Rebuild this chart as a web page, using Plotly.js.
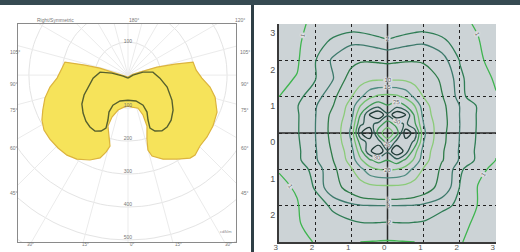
<!DOCTYPE html>
<html><head><meta charset="utf-8">
<script src="https://cdn.plot.ly/plotly-3.0.1.min.js"></script>
<style>html,body{margin:0;padding:0;background:#fff}#chart{width:520px;height:252px}</style>
</head><body><div id="chart"></div>
<script>
// ===== Left panel: photometric (polar) curve, angle from nadir (deg), intensity (cd/klm) =====
const yellowAngles = [0,-90,-102.5,-104,-103.1,-101.7,-96,-87.6,-81.3,-74.5,-67.6,-62.4,-56.8,-50.6,-43.8,-37.3,-31.3,-24.1,-18.6,-15.9,-14.2,-17.3,-21.4,-20.9,-15.9,-7.1,0,7.1,16.9,20.6,20.4,16.5,14.9,16.5,22.6,30.3,36.8,40.0,45.4,51.9,59.0,67.4,75.8,81.7,87.7,94.2,101.3,103.2,105.4,104,101,0];
const yellowValues = [6,18,56,88,134,195,201,215,239,261,279,294,304,306,306,305,298,282,265,243,222,194,166,136,110,98,94,98,105,129,165,202,235,256,276,295,314,316,306,304,300,292,272,251,224,207,201,146,91,37,15,6];
const darkAngles = [0,-78.7,-97.1,-96.1,-85.1,-73.3,-65.6,-57.8,-49.8,-42.4,-36.2,-30.5,-25.7,-22.5,-24,-27.2,-26.6,-17.1,0,17.1,26.6,27.2,24,22.5,25.7,31.3,36.9,43.7,52.1,60.4,73,84.6,96.8,101.3,90,0];
const darkValues = [9,15,49,85,106,127,146,165,178,189,195,197,188,174,149,126,102,82,76,82,102,126,149,174,188,198,197,189,173,153,124,97,76,46,15,9];
const ringValues = [100,200,300,400,500,600];
const ringLabels = ['100','200','300','400','500'];
const rayAngles = [0,15,30,45,60,75,90,105,120,135,150,165,180,195,210,225,240,255,270,285,300,315,330,345];
const sideAngleLabels = ['105°','90°','75°','60°','45°'];
const bottomAngleLabels = ['30°','15°','0°','15°','30°'];
const headerLabels = ['Right/Symmetric','180°','120°'];

// ===== Right panel: isolux contour diagram =====
const gridX = [-3,-2.5,-2,-1.5,-1,-0.75,-0.5,-0.25,0,0.25,0.5,0.75,1,1.5,2,2.5,3];
const gridY = [-3,-2.5,-2,-1.5,-1,-0.75,-0.5,-0.25,0,0.25,0.5,0.75,1,1.5,2,2.5,3];
const luxZ = [
 [0.5,0.82,1.03,1.07,1.03,1.0,0.97,0.94,0.92,0.94,0.97,1.0,1.03,1.07,1.03,0.85,0.5],
 [0.55,0.92,1.3,1.6,1.85,1.92,1.95,1.93,1.9,1.93,1.95,1.92,1.9,1.6,1.2,0.85,0.55],
 [0.65,0.95,1.5,2.2,2.6,2.85,2.95,3.0,3.0,3.0,2.95,2.85,2.6,2.2,1.85,0.96,0.65],
 [0.85,1.07,2.1,3.9,6.2,7.5,8.3,8.7,8.7,8.7,8.3,7.5,6.5,4.0,1.95,0.97,0.75],
 [1.04,1.5,2.3,4.0,9.5,13.5,18,20,20.5,20,18,13.5,9.5,4.3,2.2,1.15,0.85],
 [1.05,1.8,2.7,5.0,12,19,24,27,25,28,24,19,12,5.2,2.8,1.8,0.98],
 [1.1,1.8,2.8,5.3,13,23,34,39,31,40,33,22,13,5.3,2.8,1.8,1.06],
 [1.15,1.85,2.9,5.6,15,27,32,33,22,32,33,29,15,5.6,2.9,1.85,1.18],
 [1.2,1.9,2.95,5.8,16,34,40,22,17,22,38,33,16,5.7,2.95,1.88,1.22],
 [1.22,1.9,2.95,5.8,15,29,32,28,22,27,31,26,15,5.9,3.0,1.9,1.25],
 [1.2,1.9,2.9,5.6,13,25,35,40,31,39,35,24,13,5.8,2.95,1.9,1.25],
 [1.15,1.95,2.8,5.0,12,20,25,28,25.3,28,25,20,12,5.6,2.95,1.9,1.2],
 [1.0,1.8,2.4,4.0,9.8,14,18.8,21,21.5,21,18.8,14,9.8,5.2,2.3,1.4,1.05],
 [0.8,1.05,1.95,2.95,6,7.5,8.5,8.9,8.9,8.9,8.6,7.8,7,4.5,2.2,1.35,0.9],
 [0.75,0.88,1.95,3.2,4.3,4.7,4.65,4.4,4.1,4.4,4.65,4.75,4.55,3.5,1.95,1.1,0.8],
 [0.7,0.85,1.5,2.25,2.75,2.7,2.5,2.3,2.15,2.3,2.5,2.7,2.8,2.3,1.5,1.03,0.75],
 [0.7,0.9,1.1,1.3,1.4,1.38,1.35,1.3,1.25,1.3,1.35,1.38,1.4,1.3,1.1,0.95,0.7]
];
const luxLevels = [1,2,3,5,10,15,20,25,30,35];
const levelColors = ['#3fb54f','#2f7d55','#3e7a6c','#2e7b48','#8bcb79','#4e8c80','#74c26f','#3f9a55','#2f5a52','#1f3a36'];
const axisTickVals = [-3,-2,-1,0,1,2,3];
const axisTickText = ['3','2','1','0','1','2','3'];

// ---- helpers ----
const rad = d => d * Math.PI / 180;
function polarToXY(angles, values) {
  return { x: values.map((v, i) => v * Math.sin(rad(angles[i]))),
           y: values.map((v, i) => -v * Math.cos(rad(angles[i]))) };
}
const FONT = 'Liberation Sans, Arial, sans-serif';
const traces = [];

ringValues.forEach(r => {
  const a = [], v = [];
  for (let d = 0; d <= 360; d += 3) { a.push(d); v.push(r); }
  const p = polarToXY(a, v);
  traces.push({type:'scatter', mode:'lines', x:p.x, y:p.y, xaxis:'x2', yaxis:'y2',
    line:{color:'#e4e4e4', width:1}, hoverinfo:'skip', showlegend:false});
});
rayAngles.forEach(a => {
  const p = polarToXY([a, a], [0, 700]);
  traces.push({type:'scatter', mode:'lines', x:p.x, y:p.y, xaxis:'x2', yaxis:'y2',
    line:{color:'#ebebeb', width:1}, hoverinfo:'skip', showlegend:false});
});
const py = polarToXY(yellowAngles, yellowValues);
traces.push({type:'scatter', mode:'lines', x:py.x, y:py.y, xaxis:'x2', yaxis:'y2',
  fill:'toself', fillcolor:'#f6e35a', line:{color:'#dcb43e', width:1.2},
  hoverinfo:'skip', showlegend:false});
const pd = polarToXY(darkAngles, darkValues);
traces.push({type:'scatter', mode:'lines', x:pd.x, y:pd.y, xaxis:'x2', yaxis:'y2',
  line:{color:'#56602e', width:1.4}, hoverinfo:'skip', showlegend:false});
traces.push({type:'scatter', mode:'text', xaxis:'x2', yaxis:'y2',
  x: ringLabels.map(() => 0).concat([0]),
  y: ringLabels.map((t, i) => -ringValues[i] + 8).concat([ringValues[0]]),
  text: ringLabels.concat([ringLabels[0]]),
  textfont:{size:5, color:'#777', family:FONT}, hoverinfo:'skip', showlegend:false});

luxLevels.forEach((L, i) => {
  traces.push({type:'contour', x:gridX, y:gridY, z:luxZ, xaxis:'x', yaxis:'y',
    autocontour:false,
    contours:{start:L, end:L, size:1, coloring:'none', showlabels:true,
      labelfont:{size:6, color:'#555', family:FONT,
        shadow:'0 0 1px #fff, 0 0 2px #fff, 0 0 2px #fff, 0 0 3px #fff'}},
    line:{color:levelColors[i], width:1.3, smoothing:1},
    showscale:false, hoverinfo:'skip'});
});

const yDom = [10/252, 228/252];
const annotations = [];
const px = (x) => x / 520, py_ = (y) => 1 - y / 252;
const small = {size:5, color:'#777', family:FONT};
annotations.push({xref:'paper', yref:'paper', x:px(35), y:py_(15), text:headerLabels[0], showarrow:false, font:small});
annotations.push({xref:'paper', yref:'paper', x:px(127), y:py_(15), text:headerLabels[1], showarrow:false, font:small});
annotations.push({xref:'paper', yref:'paper', x:px(240), y:py_(15), text:headerLabels[2], showarrow:false, font:small});
const sideY = [47,79,110,148,198];
sideAngleLabels.forEach((t, i) => {
  annotations.push({xref:'paper', yref:'paper', x:px(8), y:py_(sideY[i]), text:t, showarrow:false, font:small});
  annotations.push({xref:'paper', yref:'paper', x:px(245), y:py_(sideY[i]), text:t, showarrow:false, font:small});
});
const botX = [25,80,128,173,228];
bottomAngleLabels.forEach((t, i) => {
  annotations.push({xref:'paper', yref:'paper', x:px(botX[i]), y:py_(248.5), text:t, showarrow:false, font:{size:4.5, color:'#777', family:FONT}});
});
annotations.push({xref:'paper', yref:'paper', x:px(226), y:py_(236), text:'cd/klm', showarrow:false, font:{size:4, color:'#888', family:FONT}});

const axisCommon = {range:[-3,3], tickvals:axisTickVals, ticktext:axisTickText, ticks:'',
  showgrid:true, gridcolor:'#222', griddash:'dot', gridwidth:1,
  zeroline:false, showline:true, linecolor:'#3a3a3a', linewidth:2, fixedrange:true};
const layout = {
  width:520, height:252, margin:{l:0, r:0, t:0, b:0},
  paper_bgcolor:'#ffffff', plot_bgcolor:'rgba(0,0,0,0)', showlegend:false,
  font:{family:FONT},
  xaxis:Object.assign({}, axisCommon, {domain:[279/520, 496/520], anchor:'y',
    tickfont:{size:8, color:'#555', family:FONT},
    ticklabelposition:'outside left', ticklabelstandoff:-4}),
  yaxis:Object.assign({}, axisCommon, {domain:yDom, anchor:'x',
    tickfont:{size:9, color:'#555', family:FONT},
    ticklabelposition:'outside bottom', ticklabelshift:3}),
  xaxis2:{domain:[18/520, 236/520], range:[-333,327], anchor:'y2', showgrid:false, zeroline:false,
    showticklabels:false, ticks:'', showline:true, mirror:true, linecolor:'#8a8a8a', linewidth:1},
  yaxis2:{domain:yDom, range:[-506,155], anchor:'x2', showgrid:false, zeroline:false,
    showticklabels:false, ticks:'', showline:true, mirror:true, linecolor:'#8a8a8a', linewidth:1},
  shapes:[
    {type:'rect', xref:'x', yref:'y', x0:-3, x1:3, y0:-3, y1:3, fillcolor:'#ccd3d6', line:{width:0}, layer:'below'},
    {type:'line', xref:'x', yref:'y', x0:0, x1:0, y0:-3, y1:3, line:{color:'#2a2a2a', width:1.5}, layer:'between'},
    {type:'line', xref:'x', yref:'y', x0:-3, x1:3, y0:0, y1:0, line:{color:'#2a2a2a', width:1.5}, layer:'between'},
    {type:'rect', xref:'paper', yref:'paper', x0:0, x1:1, y0:247/252, y1:1, fillcolor:'#364a52', line:{width:0}},
    {type:'rect', xref:'paper', yref:'paper', x0:251/520, x1:254/520, y0:0, y1:247/252, fillcolor:'#2f3f46', line:{width:0}}
  ],
  annotations:annotations
};
Plotly.newPlot('chart', traces, layout, {staticPlot:true, displayModeBar:false});
</script></body></html>
